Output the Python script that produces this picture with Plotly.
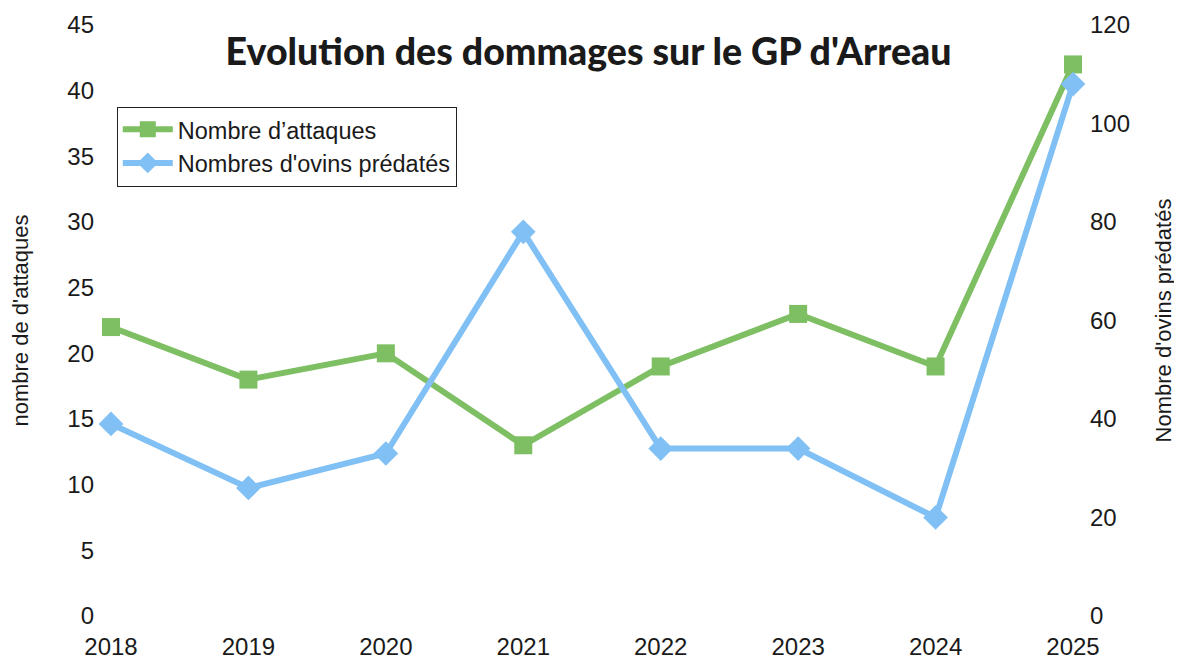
import plotly.graph_objects as go

years = ["2018", "2019", "2020", "2021", "2022", "2023", "2024", "2025"]
attaques = [22, 18, 20, 13, 19, 23, 19, 42]
ovins = [39, 26, 33, 78, 34, 34, 20, 108]
left_ticks = [0, 5, 10, 15, 20, 25, 30, 35, 40, 45]
right_ticks = [0, 20, 40, 60, 80, 100, 120]

green = "#7dbf62"
blue = "#80c0f4"
tick_font = dict(family="Liberation Sans, Arial, sans-serif", size=24, color="#1a1a1a")
title_font = dict(family="Liberation Sans, Arial, sans-serif", size=22, color="#1a1a1a")

fig = go.Figure()
fig.add_trace(go.Scatter(
    x=years, y=attaques, name="Nombre d’attaques", mode="lines+markers", cliponaxis=False,
    line=dict(color=green, width=6), marker=dict(symbol="square", size=18, color=green),
    yaxis="y"))
fig.add_trace(go.Scatter(
    x=years, y=ovins, name="Nombres d'ovins prédatés", mode="lines+markers", cliponaxis=False,
    line=dict(color=blue, width=6), marker=dict(symbol="diamond", size=19, color=blue),
    yaxis="y2"))

fig.update_layout(
    width=1174, height=651,
    paper_bgcolor="white", plot_bgcolor="white",
    margin=dict(l=103, r=109, t=17, b=43, autoexpand=False),
    title=dict(text="Evolution des dommages sur le GP d'Arreau", x=0.4945, xanchor="center",
               y=0.933, yanchor="middle", automargin=False,
               font=dict(family="Lato, Open Sans, sans-serif", size=37.5, color="#1a1a1a", weight=900)),
    xaxis=dict(type="category", range=[0, 7], showgrid=False, zeroline=False, showline=False,
               automargin=False, tickfont=tick_font, ticklabelstandoff=14),
    yaxis=dict(range=[0, 45], tickvals=left_ticks, showgrid=False, zeroline=False, showline=False,
               automargin=False, tickfont=tick_font, ticklabelstandoff=16,
               title=dict(text="nombre de d'attaques", standoff=44, font=title_font)),
    yaxis2=dict(range=[0, 120], tickvals=right_ticks, overlaying="y", side="right",
                showgrid=False, zeroline=False, showline=False, automargin=False,
                tickfont=tick_font, ticklabelstandoff=16,
                title=dict(text="Nombre d'ovins prédatés", standoff=26, font=title_font)),
    legend=dict(x=0.006, y=0.862, xanchor="left", yanchor="top",
                bordercolor="#222", borderwidth=1, bgcolor="white",
                font=dict(family="Liberation Sans, Arial, sans-serif", size=23.5, color="#1a1a1a"),
                itemwidth=50, tracegroupgap=0),
    showlegend=True,
)

fig.write_html("out.html")
